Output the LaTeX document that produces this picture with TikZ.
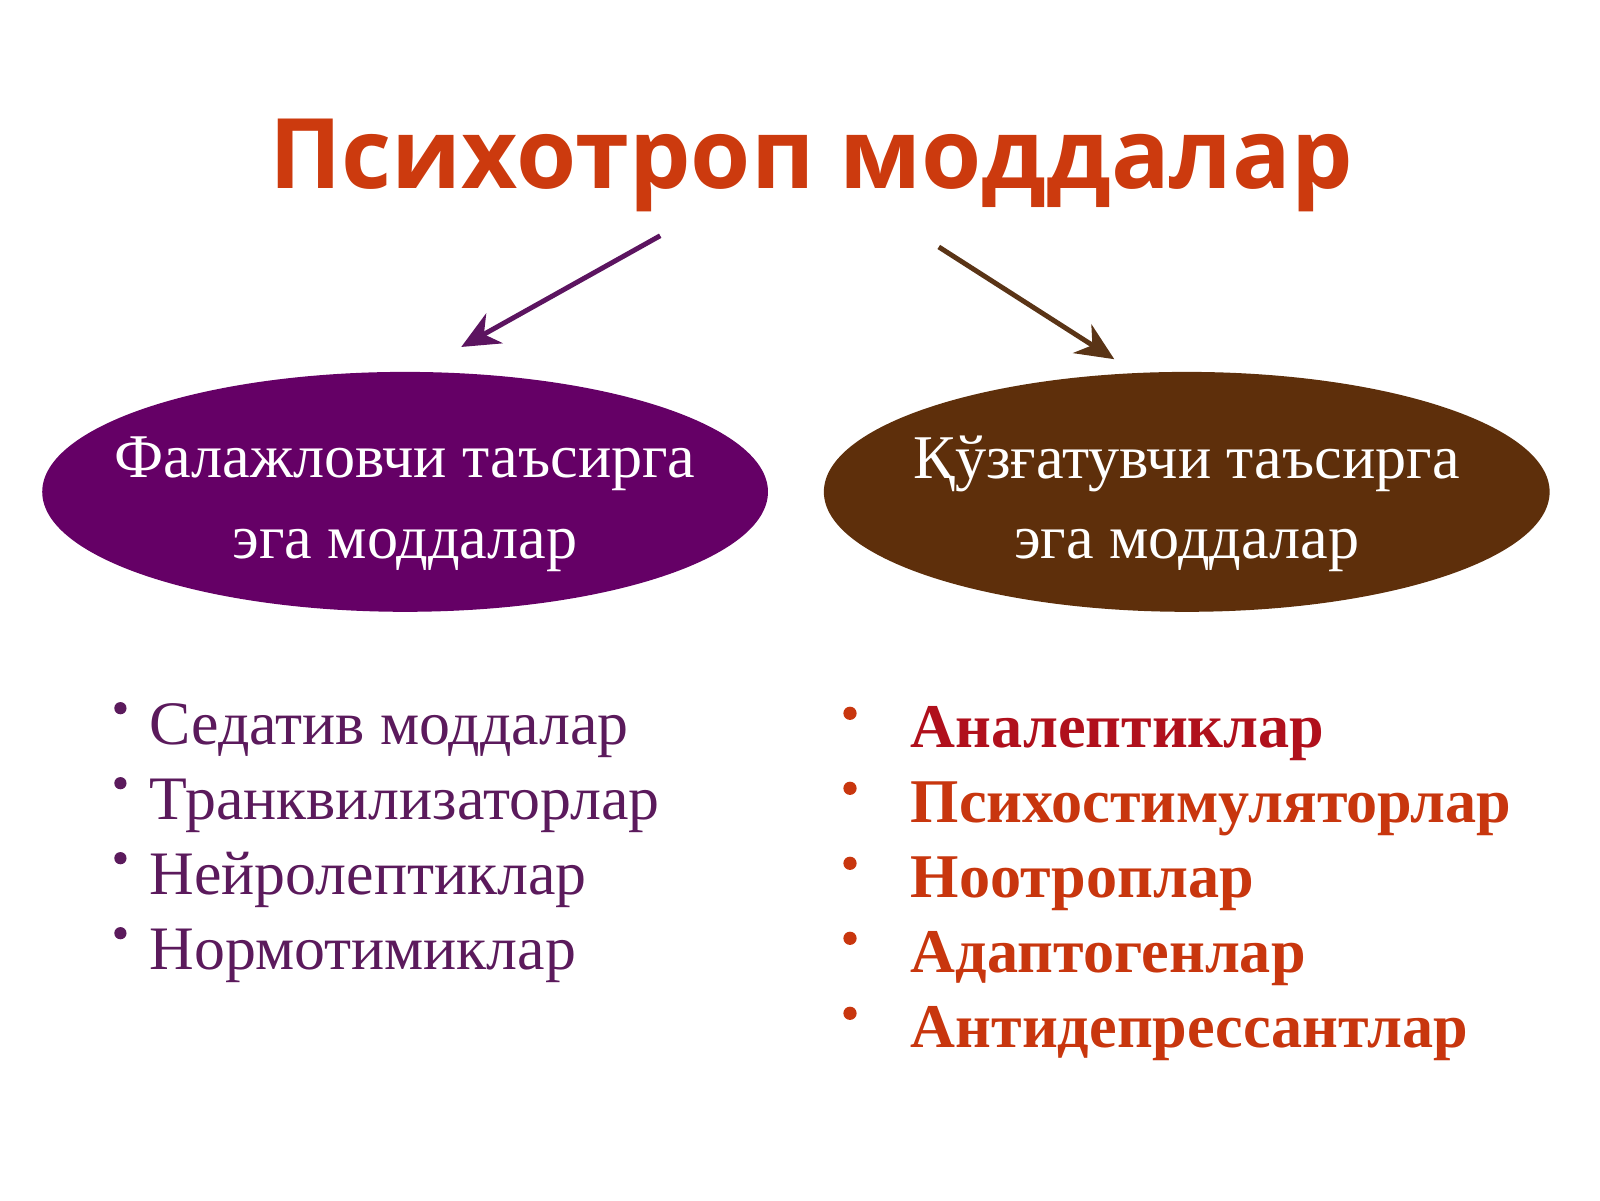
\documentclass[tikz,border=0pt]{standalone}
\usepackage{fontspec}
\setmainfont{Liberation Serif}
\newfontfamily\headfont{Open Sans}
\usetikzlibrary{shapes.geometric,arrows.meta}
\definecolor{headcol}{HTML}{CC3A0E}
\definecolor{plum}{HTML}{650066}
\definecolor{plumarrow}{HTML}{5C1460}
\definecolor{umber}{HTML}{5E2F0B}
\definecolor{umberarrow}{HTML}{5A3416}
\definecolor{plumtext}{HTML}{5B1A5C}
\definecolor{crimson}{HTML}{B0101C}
\definecolor{rust}{HTML}{C8360E}
\tikzset{
  oval/.style={ellipse, minimum width=7.26cm, minimum height=2.4cm, inner sep=0pt},
  ovaltext/.style={inner sep=0pt, text=white, align=center, font=\fontsize{17.7}{22.9}\selectfont},
  ptr/.style={line width=1.4pt, -{Stealth[length=0.38cm, width=0.34cm, inset=0.12cm]}},
  calm/.style={anchor=base west, inner sep=0pt, text=plumtext, font=\fontsize{17.6}{20}\selectfont},
  lively/.style={anchor=base west, inner sep=0pt, text=rust, font=\fontsize{17.7}{20}\selectfont\bfseries},
}
\begin{document}
\begin{tikzpicture}[x=0.010204cm, y=-0.010204cm]
  \useasboundingbox (0,0) rectangle (1568,1176);

  \node[anchor=base, inner sep=0pt, text=headcol, font=\headfont\bfseries\fontsize{27.7}{30}\selectfont]
    (title) at (795,185) {Психотроп моддалар};

  \node[oval, fill=plum] (fal) at (397,482) {};
  \node[oval, fill=umber] (quz) at (1163,482) {};
  \node[ovaltext] (faltxt) at (397,494) {Фалажловчи таъсирга\\эга моддалар};
  \node[ovaltext] (quztxt) at (1163,494) {Қўзғатувчи таъсирга\\эга моддалар};

  \coordinate (fal0) at (647,231);
  \coordinate (fal1) at (452,340);
  \coordinate (quz0) at (920,242);
  \coordinate (quz1) at (1092,352);
  \draw[ptr, plumarrow] (fal0) -- (fal1);
  \draw[ptr, umberarrow] (quz0) -- (quz1);

  % left list
  \foreach \txt [count=\i] in {Седатив моддалар, Транквилизаторлар, Нейролептиклар, Нормотимиклар}{
    \node[calm] (calm\i) at (146,{730+73.5*(\i-1)}) {\txt};
    \fill[plumtext] (118,{694+73.5*(\i-1)}) circle (6);
  }

  % right list
  \node[lively, text=crimson] (liv1) at (892,733) {Аналептиклар};
  \foreach \txt [count=\i from 2] in {Психостимуляторлар, Ноотроплар, Адаптогенлар, Антидепрессантлар}{
    \node[lively] (liv\i) at (892,{733+73.5*(\i-1)}) {\txt};
  }
  \foreach \i in {1,...,5}{
    \fill[rust] (833,{699+73.5*(\i-1)}) circle (6.5);
  }
\end{tikzpicture}
\end{document}
